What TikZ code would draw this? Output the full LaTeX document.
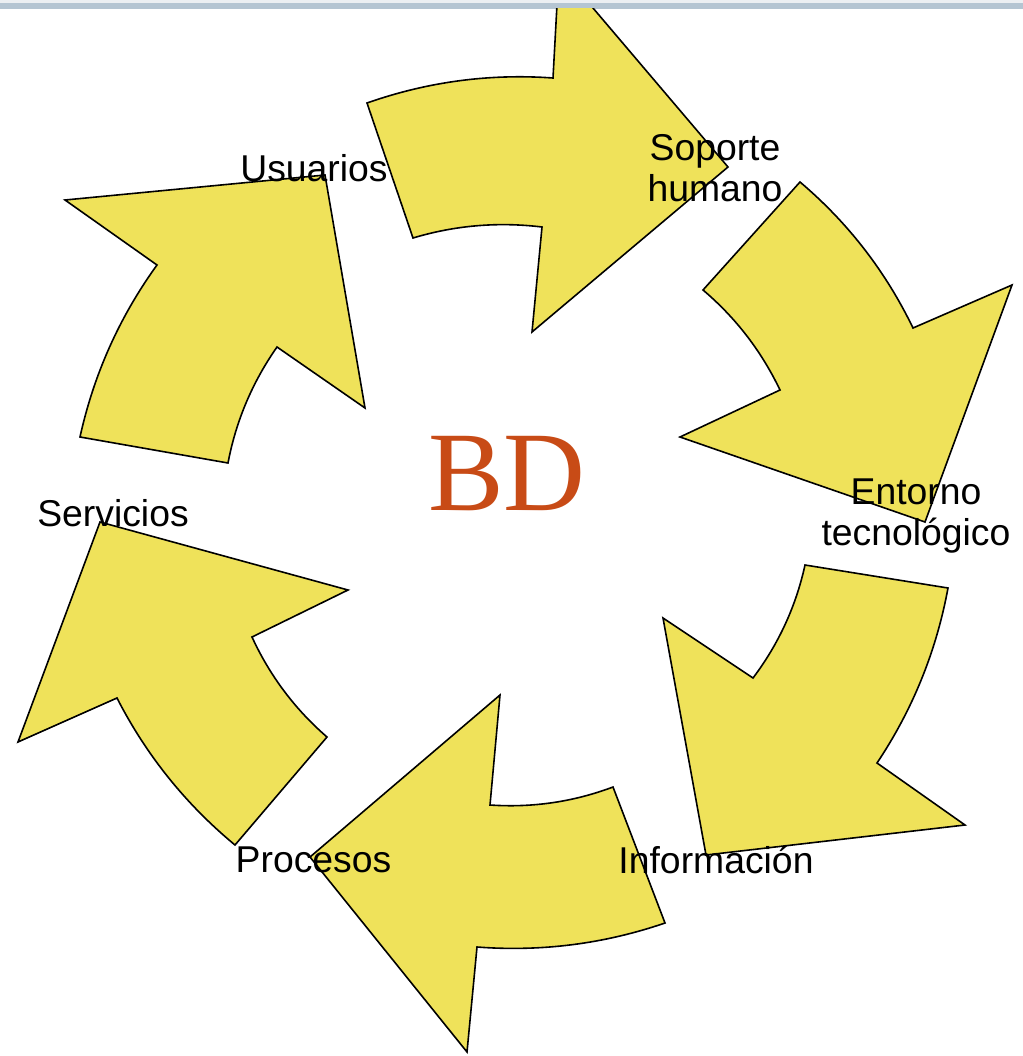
\documentclass[tikz,border=0pt]{standalone}
\usepackage{fontspec}
\setmainfont{Liberation Sans}
\newfontfamily\bdfont{Liberation Serif}
\definecolor{arrowyellow}{RGB}{239,226,90}
\definecolor{bdorange}{RGB}{200,75,22}
\definecolor{barblue}{RGB}{181,197,210}
\definecolor{barlight}{RGB}{236,239,242}
\begin{document}
\begin{tikzpicture}[x=0.75pt, y=0.75pt, yscale=-1, inner sep=0pt, outer sep=0pt,
  cyclearrow/.style={draw=black, fill=arrowyellow, line join=miter, line width=1.2pt},
  cyclelabel/.style={font=\fontsize{28}{30.5}\selectfont, align=center}]
\useasboundingbox (0,0) rectangle (1023,1056);
\fill[barlight] (0,0) rectangle (1023,3);
\fill[barblue] (0,3) rectangle (1023,9);
\begin{scope}
  \clip (0,9) rectangle (1023,1056);
  % Usuarios -> Soporte humano
  \path[cyclearrow] (367,103) .. controls (427.3,81.8) and (489.3,73.4) .. (553,78)
    -- (559,-32) -- (728,167) -- (532,332) -- (542,227)
    .. controls (498.2,221.7) and (455.2,225.3) .. (413,238) -- cycle;
  % Soporte humano -> Entorno tecnologico
  \path[cyclearrow] (800,182) .. controls (848.0,222.7) and (885.6,271.3) .. (913,328)
    -- (1012,285) -- (925,522) -- (680,437) -- (780,390)
    .. controls (761.4,351.2) and (735.8,317.8) .. (703,290) -- cycle;
  % Entorno tecnologico -> Informacion
  \path[cyclearrow] (948,588) -- (805,565)
    .. controls (795.9,606.5) and (778.5,644.1) .. (753,678)
    -- (663,618) -- (706,855) -- (965,825) -- (877,763)
    .. controls (912.7,709.6) and (936.3,651.2) .. cycle;
  % Informacion -> Procesos
  \path[cyclearrow] (613,787) .. controls (573.3,801.9) and (532.3,807.9) .. (490,805)
    -- (500,695) -- (310,857) -- (467,1052) -- (477,947)
    .. controls (541.4,951.9) and (604.0,943.9) .. (665,923) -- cycle;
  % Procesos -> Servicios
  \path[cyclearrow] (100,522) -- (348,590) -- (252,637)
    .. controls (269.8,675.7) and (294.8,709.1) .. (327,737) -- (235,845)
    .. controls (185.6,804.1) and (146.2,755.1) .. (117,698) -- (18,742) -- cycle;
  % Servicios -> Usuarios
  \path[cyclearrow] (325,175) -- (365,408) -- (277,347)
    .. controls (252.4,382.2) and (236.0,420.8) .. (228,463) -- (80,437)
    .. controls (93.8,374.4) and (119.4,317.0) .. (157,265) -- (65,200) -- cycle;
\end{scope}
\node[cyclelabel] (usuarios) at (314,168.5) {Usuarios};
\node[cyclelabel] (soporte) at (715,168) {Soporte\\humano};
\node[cyclelabel] (entorno) at (916,516) {Entorno\\tecnológico};
\node[cyclelabel] (informacion) at (716,859.5) {Información};
\node[cyclelabel] (procesos) at (313.5,859.5) {Procesos};
\node[cyclelabel] (servicios) at (113,513.5) {Servicios};
\node[text=bdorange, font=\bdfont\fontsize{85}{90}\selectfont, anchor=base] (bd) at (507,510) {BD};
\end{tikzpicture}
\end{document}
